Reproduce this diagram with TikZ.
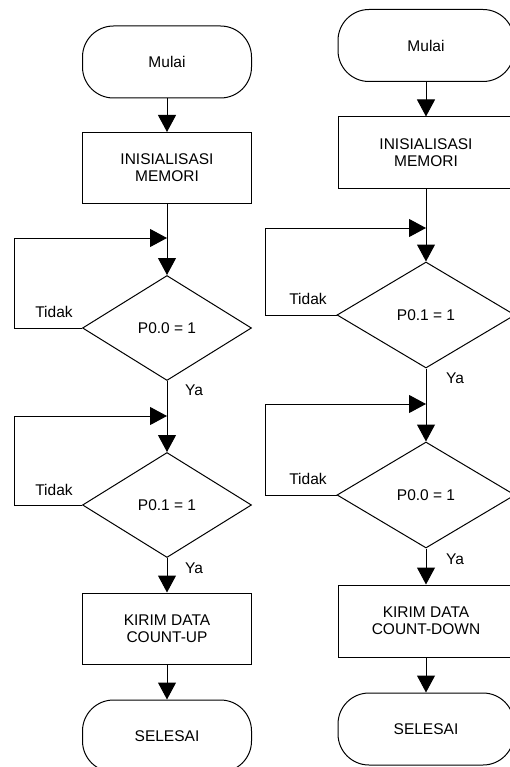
\documentclass[tikz,border=0pt]{standalone}
\usepackage{fontspec}
\setmainfont{Liberation Sans}
\usetikzlibrary{arrows.meta,shapes.geometric}
\begin{document}
\begin{tikzpicture}[x=1pt,y=-1pt,
  every node/.style={font=\fontsize{15.5}{17}\selectfont},
  base/.style={draw,line width=1pt,inner sep=0pt,align=center},
  term/.style={base,rectangle,rounded corners=31pt,minimum width=#1,minimum height=72pt},
  proc/.style={base,rectangle,minimum width=#1,minimum height=71pt},
  dec/.style={base,diamond,aspect=1.6,minimum width=#1,minimum height=105pt},
  lbl/.style={inner sep=0pt},
  ln/.style={line width=1pt},
  arr/.style={ln,-{Triangle[length=17pt,width=18pt]}}]
\useasboundingbox (0,0) rectangle (509,767);
% left column
\node[term=169pt] (t1) at (167,62) {Mulai};
\node[proc=169pt] (b1) at (167,168) {INISIALISASI\\MEMORI};
\coordinate (j1) at (167,238);
\node[dec=169pt] (d1) at (167,328) {P0.0 = 1};
\coordinate (j2) at (167,416);
\node[dec=169pt] (d2) at (167,505) {P0.1 = 1};
\node[proc=169pt] (b2) at (167,628.5) {KIRIM DATA\\COUNT-UP};
\node[term=169pt] (t2) at (167,736) {SELESAI};
\draw[arr] (t1.south) -- (b1.north);
\draw[arr] (b1.south) -- (d1.north);
\draw[arr] (d1.west) -- (14,328) -- (14,238) -- (j1);
\draw[arr] (d1.south) -- (d2.north);
\draw[arr] (d2.west) -- (14,505) -- (14,416) -- (j2);
\draw[arr] (d2.south) -- (b2.north);
\draw[arr] (b2.south) -- (t2.north);
\node[lbl] (n1) at (54,312) {Tidak};
\node[lbl] (n2) at (54,490) {Tidak};
\node[lbl] (y1) at (194,390) {Ya};
\node[lbl] (y2) at (194,568) {Ya};
% right column
\node[term=176pt] (t3) at (426,45.5) {Mulai};
\node[proc=176pt,minimum height=72pt] (b3) at (426,153) {INISIALISASI\\MEMORI};
\coordinate (j3) at (426,228);
\node[dec=178pt,minimum height=106pt] (d3) at (426,315) {P0.1 = 1};
\coordinate (j4) at (426,404);
\node[dec=178pt,minimum height=106pt] (d4) at (426,495) {P0.0 = 1};
\node[proc=176pt,minimum height=72pt] (b4) at (426,621) {KIRIM DATA\\COUNT-DOWN};
\node[term=176pt] (t4) at (426,729) {SELESAI};
\draw[arr] (t3.south) -- (b3.north);
\draw[arr] (b3.south) -- (d3.north);
\draw[arr] (d3.west) -- (265,315) -- (265,228) -- (j3);
\draw[arr] (d3.south) -- (d4.north);
\draw[arr] (d4.west) -- (265,495) -- (265,404) -- (j4);
\draw[arr] (d4.south) -- (b4.north);
\draw[arr] (b4.south) -- (t4.north);
\node[lbl] (n3) at (308,299) {Tidak};
\node[lbl] (n4) at (308,479) {Tidak};
\node[lbl] (y3) at (455,378) {Ya};
\node[lbl] (y4) at (455,559) {Ya};
\end{tikzpicture}
\end{document}
